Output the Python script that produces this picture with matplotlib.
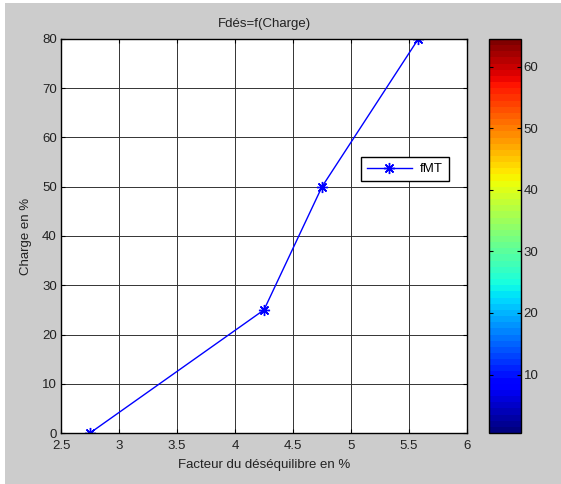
import matplotlib
matplotlib.use("Agg")
import matplotlib.pyplot as plt
import matplotlib as mpl
from matplotlib.patches import Rectangle
import numpy as np

plt.rcParams['font.family'] = ['Liberation Sans', 'DejaVu Sans']

# Data
facteur = [2.75, 4.25, 4.75, 5.58]
charge = [0, 25, 50, 80]
series_label = "fMT"
x_ticks = [2.5, 3, 3.5, 4, 4.5, 5, 5.5, 6]
x_tick_labels = ["2.5", "3", "3.5", "4", "4.5", "5", "5.5", "6"]
y_ticks = [0, 10, 20, 30, 40, 50, 60, 70, 80]
cbar_ticks = [10, 20, 30, 40, 50, 60]
cbar_levels = 64

W, H = 561, 484
fig = plt.figure(figsize=(W/100, H/100), dpi=100, facecolor='white')
fig.patches.append(Rectangle((5/W, 0), 1, 1 - 3/H, transform=fig.transFigure,
                             facecolor='#cccccc', edgecolor='none', zorder=-10))

def rect(x0, y0, x1, y1):
    return [x0/W, 1 - y1/H, (x1-x0)/W, (y1-y0)/H]

ax = fig.add_axes(rect(61, 39, 467, 433))
ax.set_facecolor('white')
ax.plot(facteur, charge, color='#0000ff', lw=1.0, marker=(8, 2, 0), markersize=8,
        markeredgewidth=1.0, markeredgecolor='#0000ff', label=series_label)
ax.set_xlim(2.5, 6)
ax.set_ylim(0, 80)
ax.set_xticks(x_ticks)
ax.set_xticklabels(x_tick_labels)
ax.set_yticks(y_ticks)
ax.grid(True, color='#333333', lw=0.7, linestyle='-')
ax.tick_params(direction='in', top=True, right=True, labelsize=9.5, length=3, width=0.8,
               colors='black', labelcolor='#222222')
ax.tick_params(axis='x', pad=5)
ax.tick_params(axis='y', pad=3)
for s in ax.spines.values():
    s.set_linewidth(1.0)
ax.set_title("Fdés=f(Charge)", fontsize=9.5, pad=9, color='#222222')
ax.set_xlabel("Facteur du déséquilibre en %", fontsize=9.5, labelpad=5, color='#222222')
ax.set_ylabel("Charge en %", fontsize=9.5, labelpad=7, color='#222222')

leg = ax.legend(loc='upper left', bbox_to_anchor=(0.739, 0.70), borderaxespad=0,
                fontsize=9.5, fancybox=False, framealpha=1, edgecolor='black',
                handlelength=3.4, borderpad=0.45, handletextpad=0.6, markerscale=1.0)
leg.get_frame().set_linewidth(1.0)

cax = fig.add_axes(rect(489, 39, 521, 433))
norm = mpl.colors.Normalize(vmin=0.5, vmax=0.5 + cbar_levels)
cmap = plt.get_cmap('jet', cbar_levels)
cb = fig.colorbar(mpl.cm.ScalarMappable(norm=norm, cmap=cmap), cax=cax)
cb.set_ticks(cbar_ticks)
cb.outline.set_linewidth(1.0)
cax.tick_params(direction='in', left=True, right=True, labelsize=9.5, length=3, width=0.8,
                pad=2, labelcolor='#222222')

fig.savefig("out.png", dpi=100, facecolor=fig.get_facecolor())
